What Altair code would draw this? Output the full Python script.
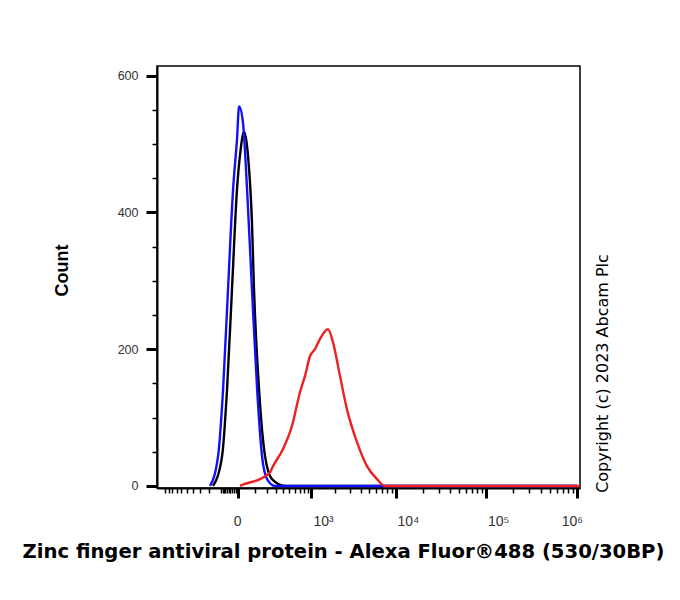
import altair as alt
import pandas as pd

# ---- data (fluorescence intensity, count) ----
black_x = [-165, -93, -60, -31, -5, 12, 31, 54, 79, 93, 131, 183, 255, 428, 1000000]
black_y = [0, 44, 142, 288, 434, 490, 518, 482, 385, 288, 142, 44, 10, 0, 0]

blue_x = [-193, -123, -86, -54, -25, -5, 5, 25, 48, 79, 116, 156, 203, 290, 1000000]
blue_y = [0, 44, 142, 288, 434, 507, 555, 531, 434, 288, 142, 44, 10, 0, 0]

red_x = [10, 25, 139, 233, 267, 397, 547, 711, 833, 971, 1126, 1304, 1638, 1885,
         2285, 2765, 3619, 4712, 6126, 7545, 1070000]
red_y = [0, 2, 10, 20, 29, 54, 88, 137, 161, 190, 200, 215, 229, 210,
         161, 112, 64, 29, 10, 0, 0]

series_names = ["black", "blue", "red"]
series_colors = ["#000000", "#1010ff", "#ee2020"]

x_major = [0, 1000, 10000, 100000, 1000000]
x_labels = ["0", "10³", "10⁴", "10⁵", "10⁶"]
x_minor = ([-1000, -900, -800, -700, -600, -500, -400, -300, -200, -100]
           + [-90, -80, -70, -60, -50, -40, -30, -20, -10]
           + [100, 200, 300, 400, 500, 600, 700, 800, 900]
           + [2000, 3000, 4000, 5000, 6000, 7000, 8000, 9000]
           + [20000, 30000, 40000, 50000, 60000, 70000, 80000, 90000]
           + [200000, 300000, 400000, 500000, 600000, 700000, 800000, 900000])
y_major = [0, 200, 400, 600]
y_minor = [50, 100, 150, 250, 300, 350, 450, 500, 550]

x_title = "Zinc finger antiviral protein - Alexa Fluor®488 (530/30BP)"
y_title = "Count"
copyright_text = "Copyright (c) 2023 Abcam Plc"

rows = []
for name, xs, ys in zip(series_names, [black_x, blue_x, red_x], [black_y, blue_y, red_y]):
    for i, (xv, yv) in enumerate(zip(xs, ys)):
        rows.append({"series": name, "i": i, "x": xv, "count": yv})
df = pd.DataFrame(rows)

label_expr = " : ".join(
    f"datum.value == {v} ? '{t}'" for v, t in zip(x_major, x_labels)
) + " : ''"

xscale = alt.Scale(type="symlog", constant=187, domain=[-1270, 1080000], nice=False, zero=False)
yscale = alt.Scale(domain=[-3, 614], nice=False, zero=False)

FONT = "Liberation Sans"

x_major_axis = alt.Axis(
    values=x_major, labelExpr=label_expr, orient="bottom", grid=False,
    domainColor="black", domainWidth=2, tickColor="black", tickWidth=3, tickSize=10,
    labelFont=FONT, labelFontSize=14, labelColor="#333333", labelPadding=27,
    labelBaseline="alphabetic", labelAlign="center", labelFlush=False, labelOverlap=False,
    labelOffset={"condition": [{"test": "datum.value == 0", "value": -1},
                               {"test": "datum.value >= 1000000", "value": -5}],
                 "value": 12},
    title=x_title, titleFont="DejaVu Sans", titleFontSize=19.6, titleFontWeight="bold",
    titleColor="black", titleX=186, titleY=69, titleAlign="center",
    titleBaseline="alphabetic", titleAnchor="start",
)
y_major_axis = alt.Axis(
    values=y_major, orient="left", grid=False,
    domainColor="black", domainWidth=2, tickColor="black", tickWidth=3, tickSize=11,
    labelFont=FONT, labelFontSize=12.5, labelColor="#333333", labelPadding=8,
    labelBaseline="middle", labelFlush=False, labelOverlap=False,
    title=y_title, titleFont=FONT, titleFontSize=18, titleFontWeight="bold",
    titleColor="black", titleX=-90, titleY=204, titleAngle=270, titleAlign="center",
    titleBaseline="alphabetic", titleAnchor="start",
)
x_minor_axis = alt.Axis(
    values=x_minor, orient="bottom", grid=False, domain=False, labels=False,
    tickColor="black", tickWidth=1.5, tickSize=5, title=None,
)
y_minor_axis = alt.Axis(
    values=y_minor, orient="left", grid=False, domain=False, labels=False,
    tickColor="black", tickWidth=1.5, tickSize=5, title=None,
)
copyright_axis = alt.Axis(
    orient="right", grid=False, domain=False, labels=False, ticks=False,
    title=copyright_text, titleFont="DejaVu Sans", titleFontSize=16, titleFontWeight="normal",
    titleColor="black", titleX=27, titleY=307, titleAngle=270, titleAlign="center",
    titleBaseline="alphabetic", titleAnchor="start",
)

base = alt.Chart(df)


def layer(name, color, xaxis, yaxis):
    return base.transform_filter(alt.datum.series == name).mark_line(
        color=color, strokeWidth=2.4, interpolate="monotone"
    ).encode(
        x=alt.X("x:Q", scale=xscale, axis=xaxis),
        y=alt.Y("count:Q", scale=yscale, axis=yaxis),
        order="i:Q",
    )


black = layer("black", series_colors[0], x_major_axis, y_major_axis)
blue = layer("blue", series_colors[1], x_minor_axis, y_minor_axis)
red = layer("red", series_colors[2], None, copyright_axis)

chart = alt.layer(black, blue, red).resolve_axis(
    x="independent", y="independent"
).properties(
    width=423, height=422,
    autosize=alt.AutoSizeParams(type="none"),
    padding={"left": 149, "top": 58, "right": 92, "bottom": 104},
).configure_view(stroke="black", strokeWidth=1.5)

chart.save("out.html", embed_options={"renderer": "svg", "actions": False})
